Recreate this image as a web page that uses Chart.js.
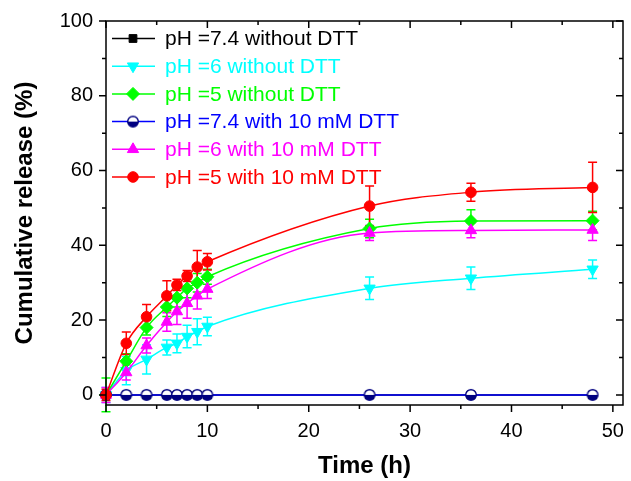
<!DOCTYPE html>
<html><head><meta charset="utf-8">
<script src="https://cdn.jsdelivr.net/npm/chart.js@4/dist/chart.umd.min.js"></script>
<style>html,body{margin:0;padding:0;background:#fff}#wrap{width:631px;height:481px}</style>
</head><body><div id="wrap"><canvas id="c" width="631" height="481"></canvas></div>
<script>
// ---- data ----
const times = [0, 2, 4, 6, 7, 8, 9, 10, 26, 36, 48];
const seriesLabels = ['pH =7.4 without DTT', 'pH =6 without DTT', 'pH =5 without DTT',
  'pH =7.4 with 10 mM DTT', 'pH =6 with 10 mM DTT', 'pH =5 with 10 mM DTT'];
const ph74NoDTT = [0, 0, 0, 0, 0, 0, 0, 0, 0, 0, 0];
const ph74NoDTTErr = [0.5, 0.5, 0.5, 0.5, 0.5, 0.8, 0.8, 0.8, 0.5, 0.5, 0.5];
const ph6NoDTT = [0, 6.5, 9.5, 12.7, 13.8, 15.6, 16.9, 18.3, 28.5, 31.2, 33.6];
const ph6NoDTTErr = [2, 3.8, 3.9, 2, 2.5, 3, 3.5, 2.5, 3, 3, 2.5];
const ph5NoDTT = [0, 9, 18, 23.5, 26, 28.5, 30, 31.6, 44.5, 46.5, 46.6];
const ph5NoDTTErr = [4.5, 2, 2, 2.5, 2.5, 2.5, 2.5, 2, 2.5, 3, 2.5];
const ph74DTT = [0, 0, 0, 0, 0, 0, 0, 0, 0, 0, 0];
const ph74DTTErr = [0.3, 0.3, 0.3, 0.3, 0.3, 0.3, 0.3, 0.3, 0.3, 0.3, 0.3];
const ph6DTT = [0, 6, 13.2, 19.5, 22.3, 24.5, 26.5, 28.3, 43.3, 44, 44.1];
const ph6DTTErr = [2, 2, 2, 2.5, 3.5, 4, 3.5, 2.5, 2, 2, 2.8];
const ph5DTT = [0, 13.8, 20.9, 26.5, 29.4, 31.8, 34.2, 35.6, 50.5, 54.2, 55.5];
const ph5DTTErr = [1.5, 3, 3.3, 4, 1.5, 1.5, 4.4, 2.2, 5.4, 2.4, 6.7];
const xTicks = [0, 10, 20, 30, 40, 50];
const yTicks = [0, 20, 40, 60, 80, 100];

const FONT = "'Liberation Sans', Arial, sans-serif";

function halfCircle(){
  const c = document.createElement('canvas'); c.width = 14; c.height = 14;
  const g = c.getContext('2d');
  g.beginPath(); g.arc(7,7,5.3,0,Math.PI); g.closePath(); g.fillStyle='#000080'; g.fill();
  g.beginPath(); g.arc(7,7,5.3,Math.PI,2*Math.PI); g.closePath(); g.fillStyle='#ffffff'; g.fill();
  g.beginPath(); g.arc(7,7,5.3,0,2*Math.PI); g.lineWidth=1.4; g.strokeStyle='#000080'; g.stroke();
  return c;
}
const navyMarker = halfCircle();

const valueSets = [ph74NoDTT, ph6NoDTT, ph5NoDTT, ph74DTT, ph6DTT, ph5DTT];
const errSets = [ph74NoDTTErr, ph6NoDTTErr, ph5NoDTTErr, ph74DTTErr, ph6DTTErr, ph5DTTErr];
const colors = ['#000000', '#00ffff', '#00ff00', '#0000ff', '#ff00ff', '#ff0000'];
const markerFill = ['#000000', '#00ffff', '#00ff00', '#000080', '#ff00ff', '#ff0000'];
const styles = ['rect', 'triangle', 'rectRot', navyMarker, 'triangle', 'circle'];
const rotations = [0, 180, 0, 0, 0, 0];
const radii = [5.5, 6.5, 6.5, 7, 6.5, 5.3];

const datasets = valueSets.map((vals, i) => ({
  label: seriesLabels[i],
  data: times.map((t, k) => ({x: t, y: vals[k]})),
  errors: errSets[i],
  borderColor: colors[i],
  backgroundColor: markerFill[i],
  pointBackgroundColor: markerFill[i],
  pointBorderColor: markerFill[i],
  pointBorderWidth: 1,
  pointStyle: styles[i],
  pointRotation: rotations[i],
  pointRadius: radii[i],
  borderWidth: 1.5,
  cubicInterpolationMode: 'monotone',
  clip: false,
  order: 5 - i
}));

const errorBars = {
  id: 'errorBars',
  beforeDatasetsDraw(chart){
    const ctx = chart.ctx, xs = chart.scales.x, ys = chart.scales.y;
    for (let i = 0; i < chart.data.datasets.length; i++){
      const ds = chart.data.datasets[i];
      ctx.save(); ctx.strokeStyle = ds.borderColor; ctx.lineWidth = 1.5;
      ds.data.forEach((p, k) => {
        const e = ds.errors[k]; if (!e) return;
        const px = xs.getPixelForValue(p.x);
        const y1 = ys.getPixelForValue(p.y + e), y2 = ys.getPixelForValue(p.y - e);
        ctx.beginPath();
        ctx.moveTo(px, y1); ctx.lineTo(px, y2);
        ctx.moveTo(px - 4.5, y1); ctx.lineTo(px + 4.5, y1);
        ctx.moveTo(px - 4.5, y2); ctx.lineTo(px + 4.5, y2);
        ctx.stroke();
      });
      ctx.restore();
    }
  }
};

const frame = {
  id: 'frame',
  afterDatasetsDraw(chart){
    const ctx = chart.ctx, a = chart.chartArea, xs = chart.scales.x, ys = chart.scales.y;
    ctx.save(); ctx.strokeStyle = '#000'; ctx.lineWidth = 1.5;
    ctx.strokeRect(a.left, a.top, a.right - a.left, a.bottom - a.top);
    ctx.beginPath();
    for (let v = 0; v <= 100; v += 10){
      const y = ys.getPixelForValue(v), L = (v % 20 === 0) ? 7 : 4;
      ctx.moveTo(a.left, y); ctx.lineTo(a.left - L, y);
      ctx.moveTo(a.right, y); ctx.lineTo(a.right - L, y);
    }
    for (let v = 0; v <= 50; v += 5){
      const x = xs.getPixelForValue(v), L = (v % 10 === 0) ? 7 : 4;
      ctx.moveTo(x, a.bottom); ctx.lineTo(x, a.bottom + L);
      ctx.moveTo(x, a.top); ctx.lineTo(x, a.top + L);
    }
    ctx.stroke(); ctx.restore();
  }
};

const legendBox = {
  id: 'legendBox',
  afterDraw(chart){
    const ctx = chart.ctx, a = chart.chartArea;
    ctx.save();
    ctx.font = '21px ' + FONT; ctx.textBaseline = 'middle'; ctx.textAlign = 'left';
    chart.data.datasets.forEach((ds, i) => {
      const y = a.top + 17.5 + i * 27.7;
      ctx.strokeStyle = ds.borderColor; ctx.lineWidth = 1.5;
      ctx.beginPath(); ctx.moveTo(a.left + 6, y); ctx.lineTo(a.left + 49, y); ctx.stroke();
      ctx.fillStyle = ds.pointBackgroundColor; ctx.strokeStyle = ds.pointBorderColor; ctx.lineWidth = 1;
      Chart.helpers.drawPoint(ctx, {pointStyle: ds.pointStyle, rotation: ds.pointRotation, radius: ds.pointRadius, borderWidth: 1}, a.left + 27, y);
      ctx.fillStyle = ds.borderColor;
      ctx.fillText(ds.label, a.left + 59, y + 1);
    });
    ctx.restore();
  }
};

Chart.defaults.color = '#000';
new Chart(document.getElementById('c'), {
  type: 'line',
  data: { datasets },
  options: {
    responsive: false, animation: false, devicePixelRatio: 1, events: [],
    layout: { padding: { top: 21, right: 7, left: 0, bottom: 0 } },
    plugins: { legend: { display: false }, tooltip: { enabled: false } },
    scales: {
      x: {
        type: 'linear', min: 0, max: 51,
        grid: { display: false, drawTicks: false }, border: { display: false },
        afterBuildTicks: s => { s.ticks = xTicks.map(v => ({value: v})); },
        afterFit: s => { s.height = 76; s.paddingLeft = 0; s.paddingRight = 0; },
        ticks: { font: { size: 20, family: FONT }, padding: 14, maxRotation: 0, color: '#000' },
        title: { display: true, text: 'Time (h)', font: { size: 24, weight: 'bold', family: FONT }, padding: { top: 0, bottom: 0 }, color: '#000' }
      },
      y: {
        type: 'linear', min: -2.7, max: 100,
        grid: { display: false, drawTicks: false }, border: { display: false },
        afterBuildTicks: s => { s.ticks = yTicks.map(v => ({value: v})); },
        afterFit: s => { s.width = 106; s.paddingTop = 0; s.paddingBottom = 0; },
        ticks: { font: { size: 20, family: FONT }, padding: 13, color: '#000' },
        title: { display: true, text: 'Cumulative release (%)', font: { size: 24, weight: 'bold', family: FONT }, padding: { top: 11, bottom: 0 }, color: '#000' }
      }
    }
  },
  plugins: [errorBars, frame, legendBox]
});
</script></body></html>
